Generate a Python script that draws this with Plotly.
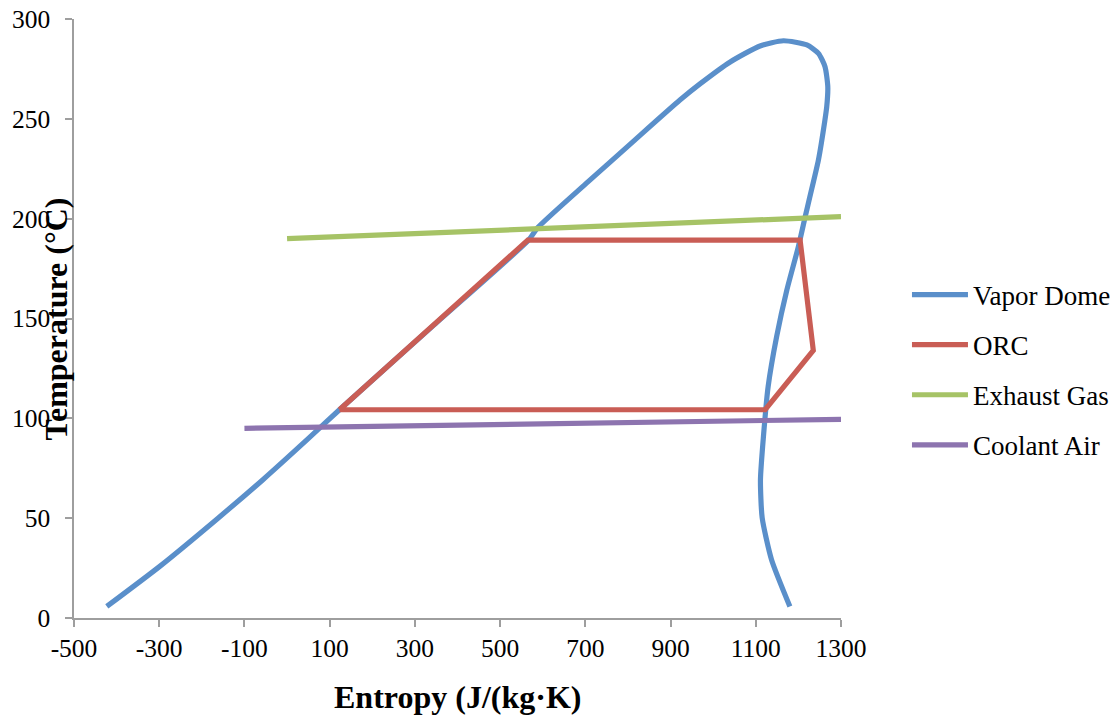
import plotly.graph_objects as go

# ---- data ----
dome_s = [-423, -298, -162, -56, 49, 123, 345, 567, 587, 706, 812, 922, 969, 1040, 1110, 1165, 1220,
          1247, 1262.5, 1269, 1266.5, 1262, 1247, 1227, 1216, 1200, 1173, 1149, 1129, 1118, 1111, 1115, 1137, 1180]
dome_T = [5.8, 26, 50, 69.4, 89.7, 104.3, 146.8, 189.3, 195.2, 218.4, 238.6, 259.4, 267.5, 278.5, 286.5, 289.1, 287,
          282.8, 276.1, 266.1, 256, 249, 229.4, 211, 201, 186, 164.3, 141, 115.9, 90.9, 69.2, 50.2, 29.2, 5.8]

orc_s = [123, 565, 1204, 1235, 1122, 123]
orc_T = [104.3, 189.3, 189.3, 134, 104.3, 104.3]

exhaust_s = [0, 1300]
exhaust_T = [190, 201]

coolant_s = [-100, 1300]
coolant_T = [95, 99.5]

x_ticks = [-500, -300, -100, 100, 300, 500, 700, 900, 1100, 1300]
y_ticks = [0, 50, 100, 150, 200, 250, 300]

FONT = "Times New Roman, Liberation Serif, serif"

fig = go.Figure()
fig.add_trace(go.Scatter(x=dome_s, y=dome_T, mode="lines", name="Vapor Dome",
                         line=dict(color="#5A8FCA", width=5.2, shape="spline", smoothing=0.6),
                         legendgroup="a"))
fig.add_trace(go.Scatter(x=orc_s, y=orc_T, mode="lines", name="ORC",
                         line=dict(color="#C95D55", width=5.2), legendgroup="b"))
fig.add_trace(go.Scatter(x=exhaust_s, y=exhaust_T, mode="lines", name="Exhaust Gas",
                         line=dict(color="#A6C366", width=5.2), legendgroup="c"))
fig.add_trace(go.Scatter(x=coolant_s, y=coolant_T, mode="lines", name="Coolant Air",
                         line=dict(color="#8D74AF", width=5.2), legendgroup="d"))

axis_common = dict(showgrid=False, zeroline=False, showline=True, linecolor="#9E9E9E",
                   linewidth=1.5, ticks="outside", ticklen=7, tickcolor="#9E9E9E", tickwidth=1.5,
                   automargin=False,
                   tickfont=dict(family=FONT, size=25.5, color="#000000"))

fig.update_xaxes(range=[-500, 1300], tickvals=x_ticks, ticktext=[str(v) for v in x_ticks],
                 **axis_common)
fig.update_yaxes(range=[0, 300], tickvals=y_ticks, ticktext=[str(v) for v in y_ticks],
                 ticklabelstandoff=10, **axis_common)

# axis titles (the y title overlaps the tick labels as in the original)
fig.add_annotation(text="<b>Entropy (J/(kg·K)</b>", xref="paper", yref="paper",
                   x=0.5, y=-0.132, xanchor="center", yanchor="middle",
                   showarrow=False, font=dict(family=FONT, size=32, color="#000"))
fig.add_annotation(text="<b>Temperature (°C)</b>", xref="paper", yref="paper",
                   x=-0.0235, y=0.5, xanchor="center", yanchor="middle", textangle=-90,
                   showarrow=False, font=dict(family=FONT, size=32, color="#000"))

fig.update_layout(
    width=1116, height=719,
    margin=dict(l=74, r=275, t=19, b=101),
    paper_bgcolor="white", plot_bgcolor="white",
    font=dict(family=FONT, color="#000"),
    showlegend=True,
    legend=dict(xref="container", yref="container", x=0.8127, xanchor="left",
                y=0.6238, yanchor="top",
                font=dict(family=FONT, size=27, color="#000"),
                tracegroupgap=12, itemwidth=56, bgcolor="rgba(0,0,0,0)"),
)

fig.write_html("out.html", config={"displayModeBar": False})
